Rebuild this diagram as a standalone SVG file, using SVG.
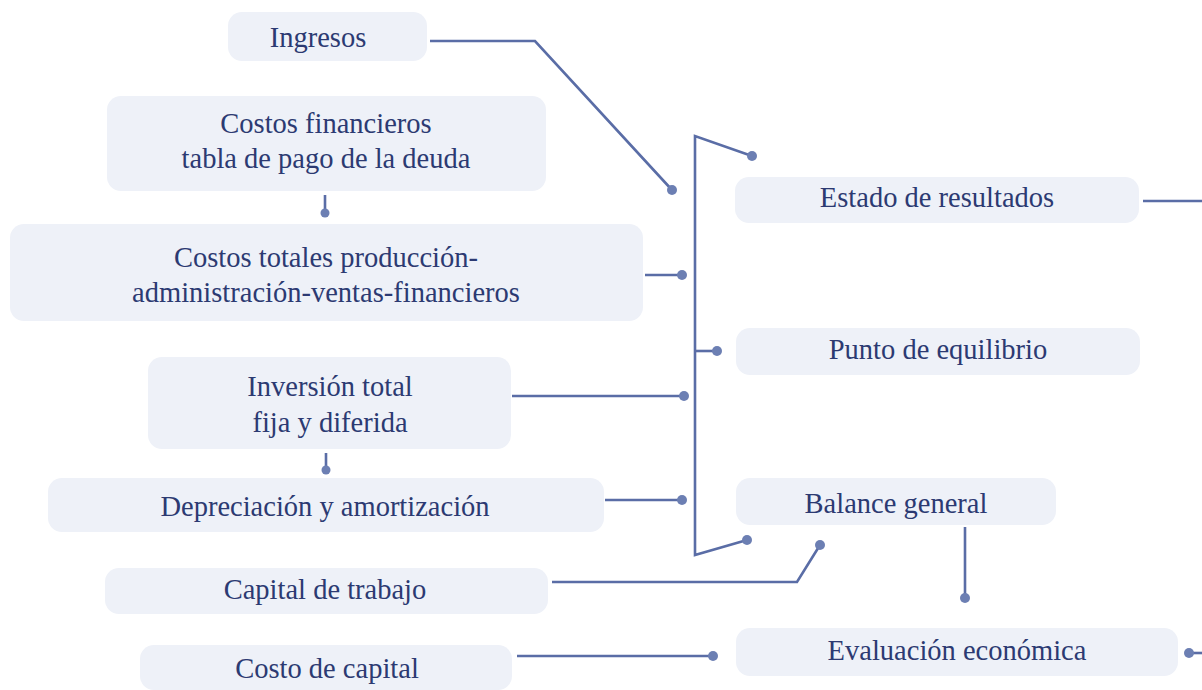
<svg xmlns="http://www.w3.org/2000/svg" width="1202" height="690" viewBox="0 0 1202 690">
<defs>
<style>
.box{fill:#eef1f8;}
.t{font-family:"Liberation Serif","Times New Roman",serif;font-size:28.5px;fill:#2c3a72;text-anchor:middle;}
.ln{fill:none;stroke:#5a6da6;stroke-width:2.6;stroke-linejoin:miter;}
.dot{fill:#6c7fb3;}
</style>
</defs>
<rect width="1202" height="690" fill="#ffffff"/>
<g id="connectors">
<polyline class="ln" points="430,41 535,41 672,190"/>
<circle class="dot" cx="672" cy="190" r="5"/>
<polyline class="ln" points="752,156 695,136 695,555 747,540"/>
<circle class="dot" cx="752" cy="156" r="5"/>
<circle class="dot" cx="747" cy="540" r="5"/>
<line class="ln" x1="325" y1="195" x2="325" y2="212"/>
<circle class="dot" cx="325" cy="213" r="4.5"/>
<line class="ln" x1="645" y1="275" x2="682" y2="275"/>
<circle class="dot" cx="682" cy="275" r="5"/>
<line class="ln" x1="695" y1="351" x2="717" y2="351"/>
<circle class="dot" cx="717" cy="351" r="5"/>
<line class="ln" x1="512" y1="396" x2="684" y2="396"/>
<circle class="dot" cx="684" cy="396" r="5"/>
<line class="ln" x1="326" y1="453" x2="326" y2="469"/>
<circle class="dot" cx="326" cy="470" r="4.5"/>
<line class="ln" x1="605" y1="500" x2="682" y2="500"/>
<circle class="dot" cx="682" cy="500" r="5"/>
<polyline class="ln" points="552,582 797,582 820,545"/>
<circle class="dot" cx="820" cy="545" r="5"/>
<line class="ln" x1="965" y1="527" x2="965" y2="598"/>
<circle class="dot" cx="965" cy="598" r="5"/>
<line class="ln" x1="517" y1="656" x2="713" y2="656"/>
<circle class="dot" cx="713" cy="656" r="5"/>
<line class="ln" x1="1143" y1="201" x2="1202" y2="201"/>
<line class="ln" x1="1189" y1="653" x2="1202" y2="653"/>
<circle class="dot" cx="1189" cy="653" r="5"/>
</g>
<g id="n-ingresos"><rect class="box" x="228" y="12" width="199" height="49" rx="14"/><text class="t" x="318" y="47">Ingresos</text></g>
<g id="n-costosfin"><rect class="box" x="107" y="96" width="439" height="95" rx="14"/><text class="t" x="326" y="133">Costos financieros</text><text class="t" x="326" y="168">tabla de pago de la deuda</text></g>
<g id="n-costostot"><rect class="box" x="10" y="224" width="633" height="97" rx="14"/><text class="t" x="326" y="267">Costos totales producción-</text><text class="t" x="326" y="302">administración-ventas-financieros</text></g>
<g id="n-inversion"><rect class="box" x="148" y="357" width="363" height="92" rx="14"/><text class="t" x="330" y="396">Inversión total</text><text class="t" x="330" y="432">fija y diferida</text></g>
<g id="n-depreciacion"><rect class="box" x="48" y="478" width="556" height="54" rx="14"/><text class="t" x="325" y="516">Depreciación y amortización</text></g>
<g id="n-capital"><rect class="box" x="105" y="568" width="443" height="46" rx="14"/><text class="t" x="325" y="599">Capital de trabajo</text></g>
<g id="n-costocap"><rect class="box" x="140" y="645" width="372" height="45" rx="14"/><text class="t" x="327" y="678">Costo de capital</text></g>
<g id="n-estado"><rect class="box" x="735" y="177" width="404" height="46" rx="14"/><text class="t" x="937" y="207">Estado de resultados</text></g>
<g id="n-punto"><rect class="box" x="736" y="328" width="404" height="47" rx="14"/><text class="t" x="938" y="359">Punto de equilibrio</text></g>
<g id="n-balance"><rect class="box" x="736" y="478" width="320" height="47" rx="14"/><text class="t" x="896" y="513">Balance general</text></g>
<g id="n-evaluacion"><rect class="box" x="736" y="628" width="442" height="48" rx="14"/><text class="t" x="957" y="660">Evaluación económica</text></g>
</svg>
